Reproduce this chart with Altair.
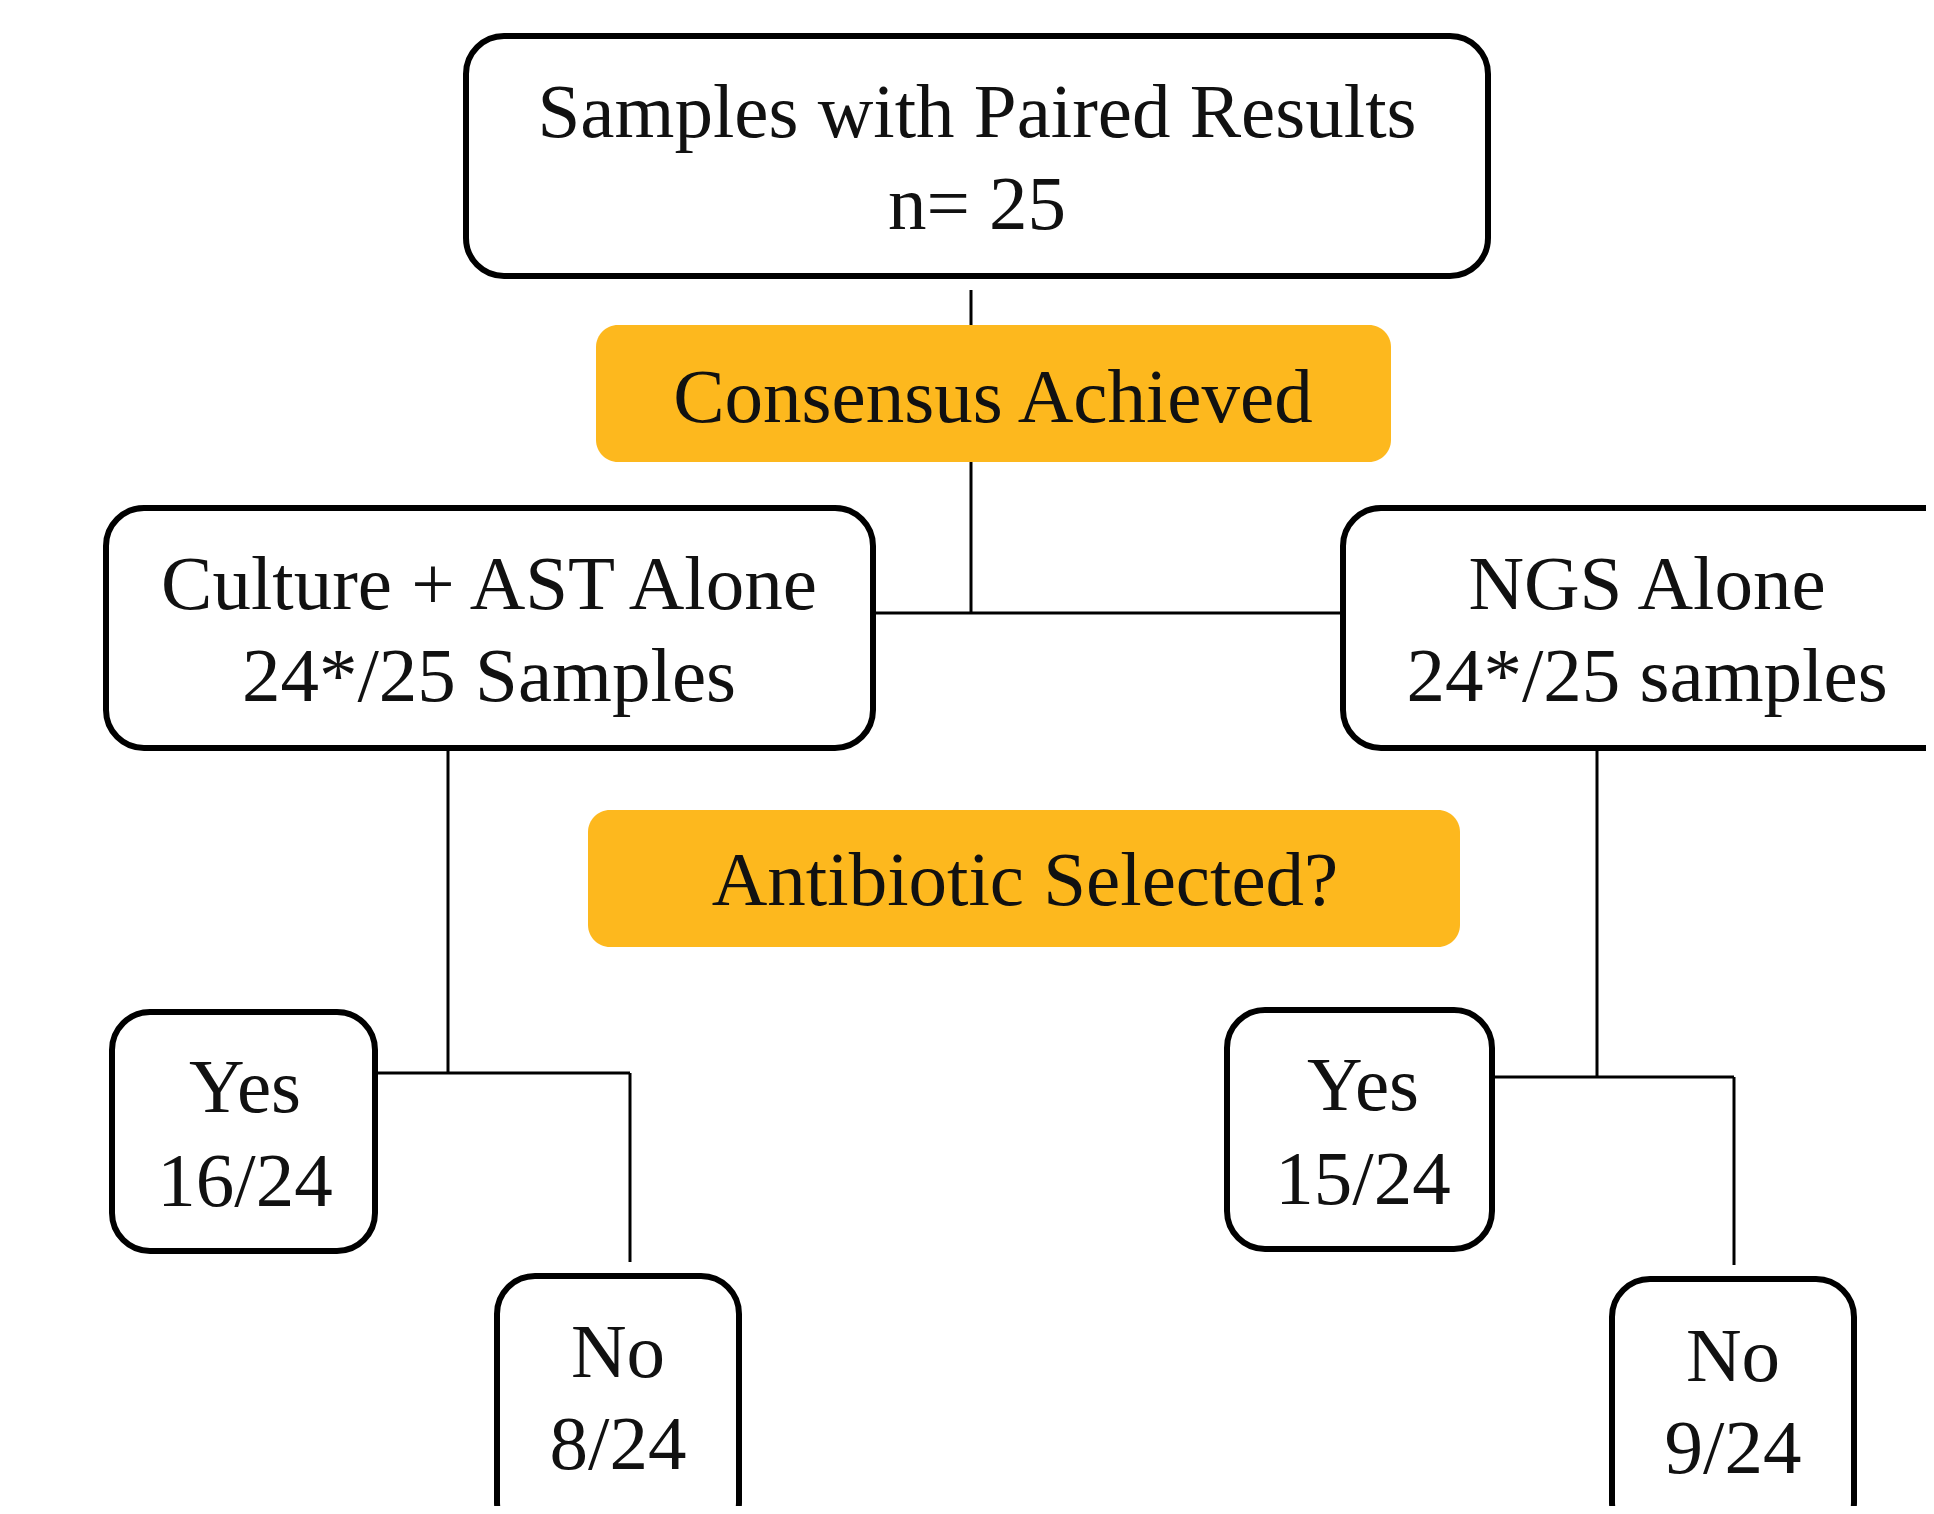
import altair as alt
import pandas as pd

# ---- content ----
box_names = ["top", "consensus", "culture", "ngs", "antibiotic", "yes_l", "no_l", "yes_r", "no_r"]
box_kind = ["white", "orange", "white", "white", "orange", "white", "white", "white", "white"]
label_line1 = ["Samples with Paired Results", "Consensus Achieved", "Culture + AST Alone", "NGS Alone",
               "Antibiotic Selected?", "Yes", "No", "Yes", "No"]
label_line2 = ["n= 25", "", "24*/25 Samples", "24*/25 samples", "", "16/24", "8/24", "15/24", "9/24"]

# ---- layout (page pixel coordinates) ----
box_x0 = [466, 596, 106, 1343, 588, 112, 497, 1227, 1612]
box_x1 = [1488, 1391, 873, 1975, 1460, 375, 739, 1492, 1854]
box_y0 = [36, 325, 508, 508, 810, 1012, 1276, 1010, 1279]
box_y1 = [276, 462, 748, 748, 947, 1251, 1540, 1249, 1540]

text_x = [977, 993, 489, 1647, 1025, 245, 618, 1363, 1733]
text_y1 = [137, 422, 609, 609, 905, 1112, 1377, 1110, 1381]
text_y2 = [229, None, 701, 701, None, 1206, 1469, 1204, 1473]

line_x = [971, 971, 873, 448, 375, 630, 1597, 1492, 1734]
line_x2 = [971, 971, 1343, 448, 630, 630, 1597, 1734, 1734]
line_y = [290, 462, 613, 748, 1073, 1073, 744, 1077, 1077]
line_y2 = [325, 613, 613, 1073, 1073, 1262, 1077, 1077, 1265]

W, H = 1918, 1498
xs = alt.Scale(domain=[8, 8 + W], nice=False, zero=False)
ys = alt.Scale(domain=[8, 8 + H], nice=False, zero=False, reverse=True)

boxes = pd.DataFrame({"name": box_names, "kind": box_kind, "x0": box_x0, "x1": box_x1,
                      "y0": box_y0, "y1": box_y1})

texts = []
for i in range(len(box_names)):
    texts.append({"x": text_x[i], "y": text_y1[i], "t": label_line1[i]})
    if label_line2[i]:
        texts.append({"x": text_x[i], "y": text_y2[i], "t": label_line2[i]})
texts = pd.DataFrame(texts)

lines = pd.DataFrame({"x": line_x, "x2": line_x2, "y": line_y, "y2": line_y2})

rules = alt.Chart(lines).mark_rule(color="#000000", strokeWidth=3, clip=True).encode(
    x=alt.X("x:Q", scale=xs, axis=None), x2="x2:Q",
    y=alt.Y("y:Q", scale=ys, axis=None), y2="y2:Q")

white_boxes = alt.Chart(boxes[boxes.kind == "white"]).mark_rect(
    fill="#ffffff", stroke="#000000", strokeWidth=6, cornerRadius=38, clip=True
).encode(
    x=alt.X("x0:Q", scale=xs, axis=None), x2="x1:Q",
    y=alt.Y("y0:Q", scale=ys, axis=None), y2="y1:Q")

orange_boxes = alt.Chart(boxes[boxes.kind == "orange"]).mark_rect(
    fill="#FDB81E", cornerRadius=22, clip=True
).encode(
    x=alt.X("x0:Q", scale=xs, axis=None), x2="x1:Q",
    y=alt.Y("y0:Q", scale=ys, axis=None), y2="y1:Q")

labels = alt.Chart(texts).mark_text(
    font="Liberation Serif", fontSize=77, color="#111111", align="center",
    baseline="alphabetic", clip=True
).encode(
    x=alt.X("x:Q", scale=xs, axis=None),
    y=alt.Y("y:Q", scale=ys, axis=None),
    text="t:N")

chart = alt.layer(rules, white_boxes, orange_boxes, labels).properties(
    width=W, height=H, padding=0, background="#ffffff",
    autosize=alt.AutoSizeParams(type="none")
).configure_view(stroke=None, strokeWidth=0)

chart.save("out.html", embed_options={"renderer": "svg", "actions": False})
